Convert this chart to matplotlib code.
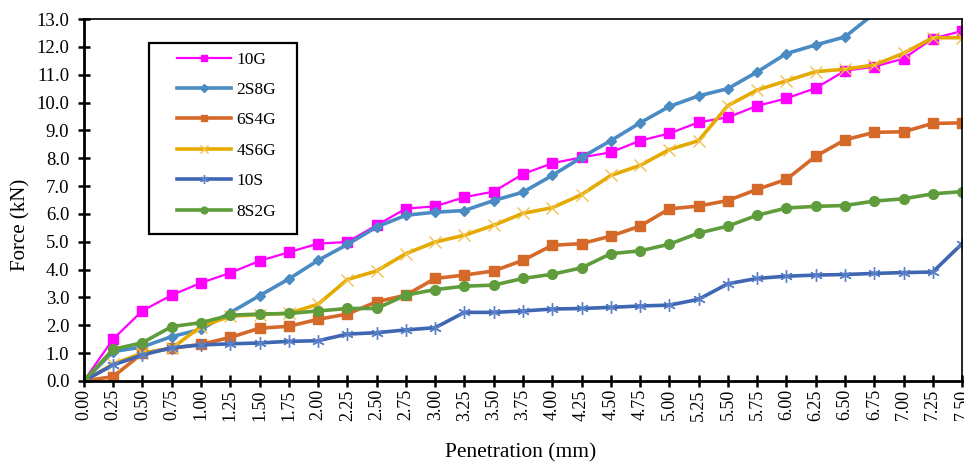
import matplotlib
matplotlib.use("Agg")
import matplotlib.pyplot as plt
from matplotlib.patches import Rectangle
import numpy as np

# ── Data ──────────────────────────────────────────────────────────────────
penetration = [0.00, 0.25, 0.50, 0.75, 1.00, 1.25, 1.50, 1.75, 2.00, 2.25,
               2.50, 2.75, 3.00, 3.25, 3.50, 3.75, 4.00, 4.25, 4.50, 4.75,
               5.00, 5.25, 5.50, 5.75, 6.00, 6.25, 6.50, 6.75, 7.00, 7.25, 7.50]
tick_labels = [f"{p:.2f}" for p in penetration]

f_10G  = [0.0, 1.50, 2.52, 3.08, 3.52, 3.88, 4.31, 4.62, 4.93, 4.99,
          5.59, 6.19, 6.27, 6.60, 6.80, 7.43, 7.82, 8.03, 8.21, 8.63,
          8.89, 9.29, 9.47, 9.88, 10.15, 10.52, 11.14, 11.29, 11.58, 12.30, 12.57]
f_2S8G = [0.0, 1.05, 1.22, 1.59, 1.85, 2.45, 3.06, 3.66, 4.33, 4.90,
          5.53, 5.95, 6.06, 6.12, 6.48, 6.78, 7.38, 8.03, 8.63, 9.27,
          9.86, 10.24, 10.50, 11.10, 11.76, 12.07, 12.36, 13.20, 13.70, 14.20, 14.60]
f_6S4G = [0.0, 0.15, 0.99, 1.17, 1.31, 1.56, 1.89, 1.96, 2.21, 2.40,
          2.84, 3.08, 3.68, 3.80, 3.95, 4.33, 4.87, 4.93, 5.20, 5.56,
          6.18, 6.28, 6.48, 6.88, 7.24, 8.07, 8.66, 8.93, 8.95, 9.25, 9.27]
f_4S6G = [0.0, 0.60, 1.00, 1.17, 1.95, 2.32, 2.38, 2.43, 2.75, 3.64,
          3.95, 4.57, 4.99, 5.23, 5.59, 6.02, 6.22, 6.69, 7.38, 7.74,
          8.31, 8.63, 9.89, 10.45, 10.78, 11.11, 11.20, 11.35, 11.77, 12.33, 12.33]
f_10S  = [0.0, 0.57, 0.93, 1.19, 1.29, 1.33, 1.36, 1.42, 1.44, 1.68,
          1.73, 1.83, 1.91, 2.46, 2.46, 2.51, 2.58, 2.60, 2.64, 2.69,
          2.72, 2.93, 3.49, 3.68, 3.76, 3.80, 3.82, 3.86, 3.89, 3.91, 4.93]
f_8S2G = [0.0, 1.13, 1.37, 1.95, 2.09, 2.36, 2.40, 2.42, 2.51, 2.60,
          2.60, 3.08, 3.28, 3.40, 3.44, 3.68, 3.83, 4.06, 4.57, 4.67,
          4.91, 5.31, 5.56, 5.95, 6.21, 6.27, 6.30, 6.46, 6.54, 6.72, 6.80]

# ── Style ──────────────────────────────────────────────────────────────────
plt.rcParams.update({
    "font.family": ["Liberation Serif", "DejaVu Serif"],
    "font.size": 12,
})

fig = plt.figure(figsize=(9.64, 4.65), dpi=100)
ax = fig.add_axes([0.087, 0.181, 0.911, 0.778])

x = np.arange(len(penetration))

series = [
    ("10G",  f_10G,  "#FF00FF", dict(marker="s", ms=7,  lw=1.6)),
    ("2S8G", f_2S8G, "#4A8BC4", dict(marker="D", ms=5.5, lw=2.6)),
    ("6S4G", f_6S4G, "#D5692A", dict(marker="s", ms=7,  lw=2.6)),
    ("4S6G", f_4S6G, "#E5AA00", dict(marker="x", ms=8,  lw=2.6, mew=1.0, mec="#F2C14E")),
    ("10S",  f_10S,  "#3F66B2", dict(marker=(6, 2, 0), ms=9, lw=2.6, mew=1.0, mec="#5A80C8")),
    ("8S2G", f_8S2G, "#5E9C3C", dict(marker="o", ms=7,  lw=2.6)),
]

for name, vals, color, kw in series:
    ax.plot(x, vals, color=color, label=name, **kw)

ax.set_xlim(0, len(penetration) - 1)
ax.set_ylim(0, 13)
ax.set_xticks(x)
ax.set_xticklabels(tick_labels, rotation=90, fontsize=13)
ax.set_yticks(np.arange(0, 14, 1))
ax.set_yticklabels([f"{v:.1f}" for v in range(14)], fontsize=13.5)
ax.tick_params(direction="inout", length=9, width=1.8)
ax.tick_params(axis="x", pad=1.5)
ax.tick_params(axis="y", pad=6)

for s in ax.spines.values():
    s.set_linewidth(1.2)
ax.spines["left"].set_linewidth(2.0)
ax.spines["bottom"].set_linewidth(2.0)

ax.set_xlabel("Penetration (mm)", fontsize=15.5)
ax.xaxis.set_label_coords(0.497, -0.172)
ax.set_ylabel("Force (kN)", fontsize=15)
ax.yaxis.set_label_coords(-0.061, 0.43)

# legend without its own frame; the box is drawn separately (Excel-style padding)
leg = ax.legend(loc="upper left", bbox_to_anchor=(0.0978, 0.9295), fontsize=12.5,
                frameon=False, handlelength=3.15, handletextpad=0.3,
                labelspacing=0.82, borderpad=0.4, borderaxespad=0,
                markerscale=0.7)
ax.add_patch(Rectangle((0.0739, 0.405), 0.1684, 0.529, transform=ax.transAxes,
                       fill=True, facecolor="white", edgecolor="black",
                       linewidth=1.6, zorder=4.5))
leg.set_zorder(5)

fig.savefig("out.png", dpi=100)
